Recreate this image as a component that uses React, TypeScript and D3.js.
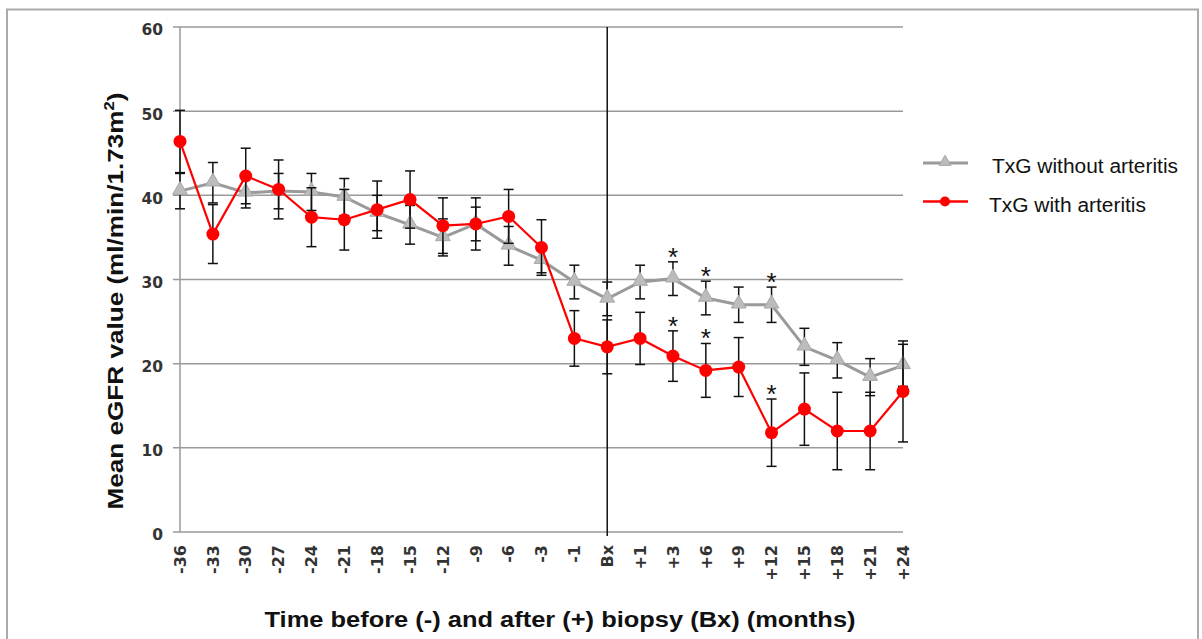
import React from "react";
import * as d3 from "d3";

const categories = ["-36","-33","-30","-27","-24","-21","-18","-15","-12","-9","-6","-3","-1","Bx","+1","+3","+6","+9","+12","+15","+18","+21","+24"];
const withoutMean = [40.5,41.5,40.3,40.5,40.4,39.8,37.9,36.5,35.0,36.6,34.0,32.3,29.7,27.7,29.7,30.1,27.8,27.0,27.0,22.0,20.4,18.4,19.8];
const withoutErr = [2.1,2.4,1.8,2.1,2.2,2.2,2.1,2.3,2.2,2.0,2.3,1.5,2.0,2.0,2.0,2.0,2.0,2.1,2.1,2.2,2.1,2.2,2.5];
const withMean = [46.4,35.4,42.3,40.7,37.4,37.1,38.3,39.5,36.4,36.6,37.5,33.8,23.0,22.0,23.0,20.9,19.2,19.6,11.8,14.6,12.0,12.0,16.7];
const withErr = [3.7,3.5,3.3,3.5,3.5,3.6,3.4,3.4,3.3,3.1,3.2,3.3,3.3,3.2,3.1,3.0,3.2,3.5,4.0,4.3,4.6,4.6,6.0];
const significant = ["+3","+6","+12"];
const yTicks = [0,10,20,30,40,50,60];
const seriesNames = ["TxG without arteritis","TxG with arteritis"];
const xTitle = "Time before (-) and after (+) biopsy (Bx) (months)";
const yTitleMain = "Mean eGFR value (ml/min/1.73m";

export default function App() {
  const x = d3.scalePoint<string>().domain(categories).range([180, 903]);
  const y = d3.scaleLinear().domain([0, 60]).range([532, 27]);
  const line = d3.line<number>().x((_, i) => x(categories[i]) as number).y((d) => y(d));
  const tri = d3.symbol().type(d3.symbolTriangle).size(95)() as string;
  const triLegend = d3.symbol().type(d3.symbolTriangle).size(60)() as string;
  const cap = 5;

  const errBars = (means: number[], errs: number[], key: string) =>
    means.map((m, i) => {
      const cx = x(categories[i]) as number;
      const y1 = y(m + errs[i]);
      const y2 = y(m - errs[i]);
      return (
        <g key={key + i} stroke="#111" strokeWidth={1.5}>
          <line x1={cx} x2={cx} y1={y1} y2={y2} />
          <line x1={cx - cap} x2={cx + cap} y1={y1} y2={y1} />
          <line x1={cx - cap} x2={cx + cap} y1={y2} y2={y2} />
        </g>
      );
    });

  const stars = (means: number[], errs: number[], key: string) =>
    categories.map((c, i) =>
      significant.includes(c) ? (
        <text key={key + i} x={x(c) as number} y={y(means[i] + errs[i]) + 4} textAnchor="middle"
          fontFamily="Liberation Sans, Arial, sans-serif" fontSize={26} fill="#111">*</text>
      ) : null
    );

  return (
    <svg width={1202} height={639} style={{ position: "absolute", left: 0, top: 0, background: "#fff" }}>
      <rect x={7} y={9.5} width={1191} height={650} fill="#fff" stroke="#aaa" strokeWidth={2} />
      {/* gridlines */}
      {yTicks.map((t) => (
        <g key={"g" + t}>
          <line x1={173} x2={903} y1={y(t)} y2={y(t)} stroke="#9a9a9a" strokeWidth={1.5} />
          <text x={163} y={y(t) + 3} dy="0.35em" textAnchor="end" fontFamily="DejaVu Sans, Verdana, sans-serif"
            fontWeight="bold" fontSize={15.5} fill="#333">{t}</text>
        </g>
      ))}
      <line x1={180} x2={180} y1={y(60)} y2={y(0)} stroke="#9a9a9a" strokeWidth={1.5} />
      <line x1={x("Bx") as number} x2={x("Bx") as number} y1={y(60)} y2={536} stroke="#111" strokeWidth={1.5} />
      {/* x labels */}
      {categories.map((c) => (
        <text key={"xl" + c} transform={`translate(${x(c)},545) rotate(-90)`} textAnchor="end" dy="0.36em"
          fontFamily="DejaVu Sans, Verdana, sans-serif" fontWeight="bold" fontSize={16} fill="#333">{c}</text>
      ))}
      {/* without arteritis */}
      <path d={line(withoutMean) as string} fill="none" stroke="#9a9a9a" strokeWidth={3} />
      {errBars(withoutMean, withoutErr, "we")}
      {withoutMean.map((m, i) => (
        <path key={"wt" + i} d={tri} transform={`translate(${x(categories[i])},${y(m) - 1})`} fill="#bcbcbc" stroke="#a8a8a8" strokeWidth={1} />
      ))}
      {stars(withoutMean, withoutErr, "ws")}
      {/* with arteritis */}
      {errBars(withMean, withErr, "re")}
      <path d={line(withMean) as string} fill="none" stroke="#ff0000" strokeWidth={2.2} />
      {withMean.map((m, i) => (
        <circle key={"rc" + i} cx={x(categories[i]) as number} cy={y(m)} r={6.5} fill="#ff0000" />
      ))}
      {stars(withMean, withErr, "rs")}
      {/* legend */}
      <line x1={923} x2={968} y1={163} y2={163} stroke="#9a9a9a" strokeWidth={3} />
      <path d={triLegend} transform="translate(945,162)" fill="#bcbcbc" stroke="#a8a8a8" strokeWidth={1} />
      <text x={992} y={173} fontFamily="Liberation Sans, Arial, sans-serif" fontSize={20} fill="#111"
        textLength={186} lengthAdjust="spacingAndGlyphs">{seriesNames[0]}</text>
      <line x1={923} x2={968} y1={201.5} y2={201.5} stroke="#ff0000" strokeWidth={2.5} />
      <circle cx={945} cy={201.5} r={5} fill="#ff0000" />
      <text x={989} y={211.5} fontFamily="Liberation Sans, Arial, sans-serif" fontSize={20} fill="#111"
        textLength={157} lengthAdjust="spacingAndGlyphs">{seriesNames[1]}</text>
      {/* axis titles */}
      <text x={560} y={627} textAnchor="middle" fontFamily="Liberation Sans, Arial, sans-serif" fontWeight="bold"
        fontSize={22} fill="#111" textLength={591} lengthAdjust="spacingAndGlyphs">{xTitle}</text>
      <text transform="translate(123,301) rotate(-90)" textAnchor="middle" fontFamily="Liberation Sans, Arial, sans-serif"
        fontWeight="bold" fontSize={22} fill="#111" textLength={417} lengthAdjust="spacingAndGlyphs">
        {yTitleMain}<tspan fontSize={14} dy={-9}>2</tspan><tspan dy={9}>)</tspan>
      </text>
    </svg>
  );
}
